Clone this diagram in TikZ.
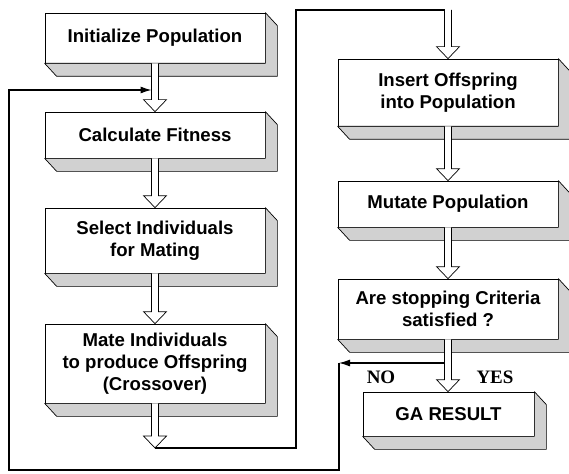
\documentclass[tikz,border=0pt]{standalone}
\usepackage{fontspec}
\setmainfont{Liberation Sans}
\newfontfamily\timesbf{Liberation Serif}
\usetikzlibrary{calc,arrows.meta}

\tikzset{
  gabox/.style={draw, fill=white, line width=0.7pt, inner sep=0pt, align=center,
    font=\fontsize{18.6}{22}\selectfont\bfseries},
  side/.style={draw, fill=black!18, line width=0.7pt, line join=round},
  flow/.style={line width=1.1pt},
  answer/.style={font=\timesbf\fontsize{19}{22}\selectfont\bfseries}
}
% hollow block arrow from #1 down to #2
\newcommand{\hollowarrow}[2]{%
  \draw[fill=white, line width=0.7pt] let \p1=(#1), \p2=(#2) in
    (\x1-3.5pt,\y1) -- (\x1-3.5pt,\y2+12pt) -- (\x1-11.5pt,\y2+12pt) -- (\x1,\y2)
    -- (\x1+11.5pt,\y2+12pt) -- (\x1+3.5pt,\y2+12pt) -- (\x1+3.5pt,\y1);
}

\begin{document}
\begin{tikzpicture}[x=1pt, y=-1pt]
  \useasboundingbox (0,0) rectangle (569,473);

  % left column
  \node[gabox, minimum width=220pt, minimum height=50pt] (init) at (155,38) {Initialize Population};
  \node[gabox, minimum width=220pt, minimum height=46pt] (calc) at (155,135) {Calculate Fitness};
  \node[gabox, minimum width=220pt, minimum height=65pt] (sel) at (155,240.5) {Select Individuals\\for Mating};
  \node[gabox, minimum width=220pt, minimum height=79pt] (mate) at (155,363.5) {Mate Individuals\\to produce Offspring\\(Crossover)};
  % right column
  \node[gabox, minimum width=220pt, minimum height=67pt] (ins) at (448,92.5) {Insert Offspring\\into Population};
  \node[gabox, minimum width=220pt, minimum height=46pt] (mut) at (448,204) {Mutate Population};
  \node[gabox, minimum width=220pt, minimum height=60pt] (stop) at (448,309) {Are stopping Criteria\\satisfied ?};
  \node[gabox, minimum width=171pt, minimum height=44pt] (res) at (448.5,414) {GA RESULT};

  \foreach \b in {init,calc,sel,mate,ins,mut,stop,res}
  {
    \draw[side] (\b.north east) -- ([shift={(12,13)}]\b.north east) -- ([shift={(12,13)}]\b.south east)
      -- ([shift={(12,13)}]\b.south west) -- (\b.south west) -- (\b.south east) -- cycle;
  }

  \coordinate (mtip) at (155,448);
  \coordinate (itop) at (448,10);
  \coordinate (itopl) at (444.5,10);
  \coordinate (fbend) at (151.5,90);
  \coordinate (nostart) at (444.5,363);
  \coordinate (nocorner) at (339,363);

  % loops
  \draw[flow] (mtip) -| (296,10) -- (itopl);
  \draw[flow,-{Latex[length=11pt,width=7pt]}] (nostart) -- (nocorner);
  \draw[flow,-{Latex[length=11pt,width=7pt]}] (nocorner) |- (9,470) |- (fbend);

  \hollowarrow{init.south}{calc.north}
  \hollowarrow{calc.south}{sel.north}
  \hollowarrow{sel.south}{mate.north}
  \hollowarrow{mate.south}{mtip}
  \hollowarrow{itop}{ins.north}
  \hollowarrow{ins.south}{mut.north}
  \hollowarrow{mut.south}{stop.north}
  \hollowarrow{stop.south}{res.north}

  \node[answer] (no) at (381,377) {NO};
  \node[answer] (yes) at (495,377) {YES};
\end{tikzpicture}
\end{document}
